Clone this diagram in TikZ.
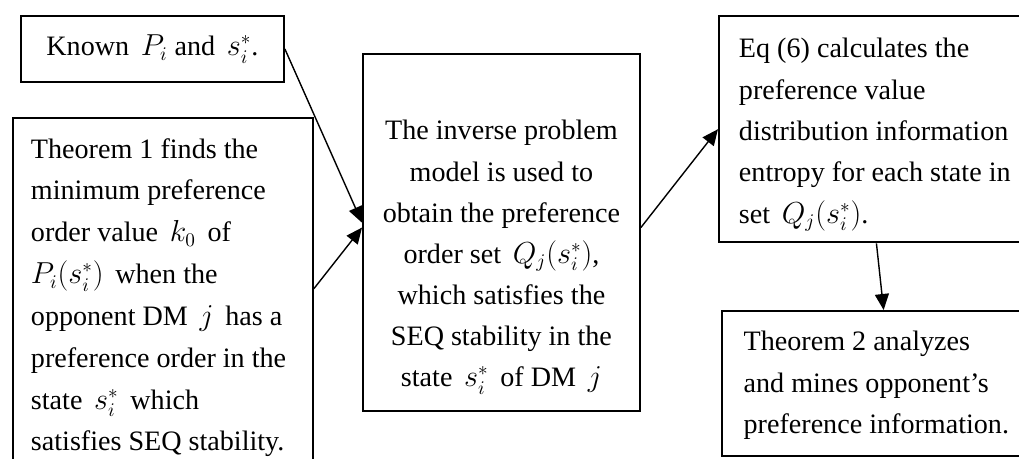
\documentclass[tikz,border=0pt]{standalone}
\usepackage{fontspec}
\setmainfont{Liberation Serif}
\usetikzlibrary{arrows.meta}

\begin{document}
\begin{tikzpicture}[x=0.02cm,y=-0.02cm,
  box/.style={draw,line width=1.1pt,anchor=north west,inner ysep=0pt,font=\fontsize{16}{#1}\selectfont},
  line/.style={-{Triangle[length=0.32cm,width=0.28cm]},line width=0.8pt}]
\clip (0,0) rectangle (1019,459);

\node[box=20,text width=4.86cm,inner xsep=0.2cm,align=flush center,text height=0.80cm,text depth=0.52cm] (known) at (20,15) {Known \,$P_i$ and \,$s_i^*$.};
\node[box=23.8,text width=5.28cm,inner xsep=0.36cm,align=flush left,text height=0.81cm,text depth=6.35cm] (thm1) at (12,116.7) {Theorem 1 finds the\\ minimum preference\\ order value \,$k_0$\, of\\ $P_i(s_i^*)$\, when the\\ opponent DM \,$j$\, has a\\ preference order in the\\ state \,$s_i^*$\, which\\ satisfies SEQ stability.};
\node[box=23.4,text width=5.14cm,inner xsep=0.2cm,align=flush center,text height=1.72cm,text depth=5.42cm] (mid) at (362,53) {The inverse problem\\ model is used to\\ obtain the preference\\ order set \,$Q_j(s_i^*)$,\\ which satisfies the\\ SEQ stability in the\\ state \,$s_i^*$\, of DM \,$j$};
\node[box=23.5,text width=5.5cm,inner xsep=0.4cm,align=flush left,text height=0.84cm,text depth=3.69cm] (eq) at (718,15) {Eq (6) calculates the\\ preference value\\ distribution information\\ entropy for each state in\\ set \,$Q_j(s_i^*)$.};
\node[box=23.4,text width=5.6cm,inner xsep=0.44cm,align=flush left,text height=0.80cm,text depth=2.10cm] (thm2) at (720.7,310) {Theorem 2 analyzes\\ and mines opponent's\\ preference information.};

\draw[line] (known.east) -- (mid.176);
\draw[line] (thm1.3) -- (mid.178);
\draw[line] (mid.2) -- (eq.west);
\draw[line] (eq.south) -- (thm2.north);
\end{tikzpicture}
\end{document}
